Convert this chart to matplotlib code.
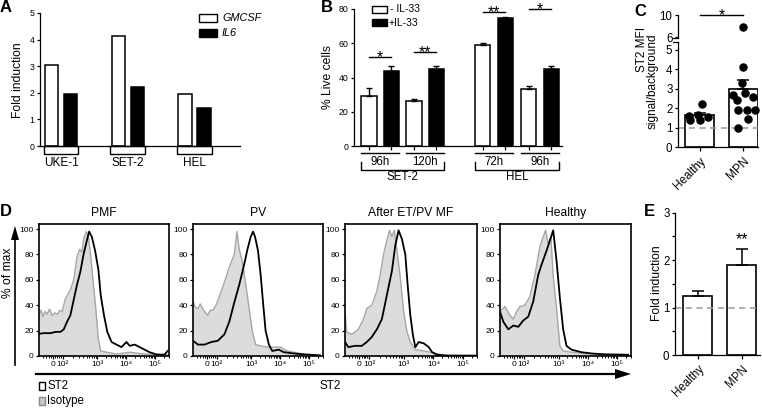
import numpy as np
import matplotlib
matplotlib.use("Agg")
from matplotlib import pyplot as plt
from matplotlib.patches import Rectangle
from matplotlib.transforms import blended_transform_factory

plt.rcParams["font.family"] = ["Liberation Sans", "DejaVu Sans"]
plt.rcParams["axes.linewidth"] = 0.9
plt.rcParams["xtick.major.width"] = 0.9
plt.rcParams["ytick.major.width"] = 0.9

W, H = 762, 409

# ---- data ----
# A: fold induction per cell line
lines_a = ["UKE-1", "SET-2", "HEL"]
gmcsf_a = [3.05, 4.15, 1.95]
il6_a = [1.95, 2.2, 1.42]

# B: % live cells
times_b = ["96h", "120h", "72h", "96h"]
cells_b = ["SET-2", "HEL"]
ctrl_b = [29, 26, 59, 33]
ctrl_err_b = [5, 1.5, 1.2, 2]
il33_b = [44, 45, 75, 45]
il33_err_b = [2.5, 2, 0.5, 1.5]
stars_b = ["*", "**", "**", "*"]
star_lvl_b = [52, 55, 78, 80]

# C: ST2 MFI signal/background
groups_c = ["Healthy", "MPN"]
healthy_c = [2.2, 1.6, 1.65, 1.55, 1.38, 1.38]
healthy_jit = [0.05, -0.25, -0.03, 0.19, -0.22, 0.01]
mpn_c = [7.85, 4.14, 3.28, 2.67, 2.76, 2.59, 2.41, 1.9, 1.9, 1.93, 1.43, 0.98]
mpn_jit = [0.0, 0.0, -0.03, -0.23, 0.03, 0.22, -0.15, 0.07, 0.26, -0.12, 0.11, -0.12]
mean_c = [1.65, 2.97]
sem_c = [0.1, 0.5]

# D: histograms (channel, % of max)
titles_d = ["PMF", "PV", "After ET/PV MF", "Healthy"]
pmf_iso = [(0, 32), (6, 36), (12, 31), (18, 35), (25, 33), (32, 37), (40, 32), (48, 34), (56, 33),
           (63, 36), (70, 35), (80, 45), (95, 52), (105, 60), (115, 78), (123, 84), (130, 82),
           (135, 92), (143, 98), (150, 94), (157, 78), (165, 56), (173, 35), (180, 13), (187, 4),
           (205, 3), (235, 1.5), (275, 3), (305, 2), (355, 1), (393, 1)]
pmf_st2 = [(0, 17.5), (15, 18), (35, 18), (50, 19), (65, 19), (75, 21), (85, 27), (95, 32),
           (105, 44), (115, 56), (125, 66), (135, 80), (145, 91), (152, 98), (160, 94), (170, 83),
           (180, 68), (187, 48), (197, 32), (207, 19), (220, 11), (235, 9), (250, 7), (265, 11),
           (275, 8), (290, 9), (305, 7), (320, 5), (335, 3), (355, 1.3), (380, 1), (390, 4)]
pv_iso = [(0, 43), (8, 38), (15, 37.5), (22, 41), (30, 37), (38, 34), (45, 32), (52, 36), (60, 36),
          (70, 40), (80, 47), (95, 58), (110, 70), (125, 80), (133, 98), (140, 84), (150, 74),
          (160, 56), (170, 37.5), (180, 19), (190, 9), (205, 8), (225, 7), (245, 7), (265, 7),
          (285, 4), (305, 3), (335, 1.5), (385, 0.5)]
pv_st2 = [(0, 12), (15, 9), (35, 9), (55, 11), (75, 12), (95, 17), (110, 27), (125, 42), (140, 56),
          (155, 72), (165, 84), (175, 94), (182, 98), (188, 94), (197, 83), (205, 64), (213, 40),
          (220, 20), (230, 9), (240, 4), (260, 5), (275, 3), (305, 2), (335, 1.3), (385, 0.5)]
et_iso = [(0, 35), (5, 19), (20, 17), (40, 21), (55, 29), (65, 37.5), (80, 40), (95, 51),
          (105, 64), (115, 80), (125, 91), (133, 99), (140, 94), (147, 99), (155, 83), (165, 62),
          (175, 35), (185, 19), (195, 11), (210, 5), (235, 4), (255, 3), (295, 0.5), (393, 0.3)]
et_st2 = [(0, 11), (10, 7), (30, 8), (50, 8), (65, 11), (80, 15), (95, 21), (110, 29), (125, 48),
          (140, 67), (150, 87), (160, 99), (170, 92), (180, 80), (187, 56), (195, 32), (203, 16),
          (210, 7), (220, 11), (235, 10), (250, 7), (260, 3), (275, 1), (305, 0.3), (393, 0.3)]
hea_iso = [(0, 35), (15, 39), (30, 32), (40, 29), (50, 35), (60, 39), (75, 40), (90, 47),
           (105, 64), (120, 86), (130, 94), (137, 99), (145, 88), (153, 94), (160, 63),
           (170, 37.5), (180, 8), (190, 4), (215, 3), (255, 2), (295, 1.5), (385, 0.5)]
hea_st2 = [(0, 35), (10, 27), (25, 21), (40, 24), (55, 23), (70, 28), (85, 31), (100, 43),
           (115, 64), (125, 72), (140, 83), (150, 91), (160, 99), (170, 75), (180, 46), (190, 21),
           (200, 8), (215, 5), (245, 3), (275, 2), (315, 1.3), (385, 1)]
hist_ticks = [43, 72, 176, 264, 352]
hist_ticklabels = ["0", "10²", "10³", "10⁴", "10⁵"]

# E: fold induction
mean_e = [1.25, 1.9]
sem_e = [0.1, 0.33]


def box(l, t, r, b):
    return [l / W, 1 - b / H, (r - l) / W, (b - t) / H]


def clean(ax, size):
    ax.spines[["top", "right"]].set_visible(False)
    ax.tick_params(labelsize=size, length=2.5, pad=1.5)


fig = plt.figure(figsize=(W / 100, H / 100), dpi=100)

# ---- A ----
ax = fig.add_axes(box(40, 13, 240, 146))
xa = np.arange(len(lines_a))
ax.bar(xa - 0.143, gmcsf_a, 0.2, color="white", edgecolor="k", lw=1.1)
ax.bar(xa + 0.143, il6_a, 0.2, color="k", edgecolor="k", lw=1.1)
ax.set_xlim(-0.315, 2.68)
ax.set_ylim(0, 5)
ax.set_yticks(range(6))
ax.set_xticks([])
clean(ax, 6.3)
tr = blended_transform_factory(ax.transData, ax.transAxes)
for i, name in enumerate(lines_a):
    ax.add_patch(Rectangle((i - 0.26, -0.06), 0.52, 0.06, transform=tr, fc="white",
                           ec="k", lw=1, clip_on=False))
    ax.text(i, -0.13, name, transform=tr, ha="center", va="center", fontsize=8.5)

# ---- B ----
ax = fig.add_axes(box(354, 9, 562, 146))
pos = np.array([0, 1, 2.53, 3.55])
kw_err = dict(fmt="none", ecolor="k", elinewidth=1, capsize=2.5, capthick=1)
ax.bar(pos - 0.25, ctrl_b, 0.34, color="white", edgecolor="k", lw=1.1)
ax.bar(pos + 0.25, il33_b, 0.34, color="k", edgecolor="k", lw=1.1)
ax.errorbar(pos - 0.25, ctrl_b, yerr=[np.zeros(4), ctrl_err_b], **kw_err)
ax.errorbar(pos + 0.25, il33_b, yerr=[np.zeros(4), il33_err_b], **kw_err)
ax.set_xlim(-0.58, 4.04)
ax.set_ylim(0, 80)
ax.set_yticks(range(0, 81, 20))
ax.set_xticks(np.concatenate([pos - 0.25, pos + 0.25]))
ax.set_xticklabels([])
clean(ax, 6.3)
ax.tick_params(axis="x", length=3)
tr = blended_transform_factory(ax.transData, ax.transAxes)
for p, t, s, lvl in zip(pos, times_b, stars_b, star_lvl_b):
    ax.plot([p - 0.42, p + 0.42], [-0.049, -0.049], transform=tr, c="k", lw=1, clip_on=False)
    ax.text(p, -0.115, t, transform=tr, ha="center", va="center", fontsize=8.3)
    ax.plot([p - 0.25, p + 0.25], [lvl, lvl], c="k", lw=1, clip_on=False)
    ax.annotate(s, (p, lvl), xytext=(0, -3.5), textcoords="offset points",
                ha="center", va="baseline", fontsize=11.5, annotation_clip=False)
for k, cell in enumerate(cells_b):
    a, b = pos[2 * k] - 0.42, pos[2 * k + 1] + 0.42
    ax.plot([a, a, b, b], [-0.117, -0.175, -0.175, -0.117], transform=tr, c="k", lw=1,
            clip_on=False)
    ax.text((a + b) / 2, -0.228, cell, transform=tr, ha="center", va="center", fontsize=8.3)

# ---- C (broken axis) ----
ax_lo = fig.add_axes(box(678, 42.2, 758, 147))
ax_hi = fig.add_axes(box(678, 15, 758, 38.4))
xc = np.arange(2)
ax_lo.bar(xc, mean_c, 0.66, color="white", edgecolor="k", lw=1.2, zorder=1)
ax_lo.errorbar(xc, mean_c, yerr=[np.zeros(2), sem_c], fmt="none", ecolor="k",
               elinewidth=1.1, capsize=4, capthick=1.1, zorder=2)
ax_lo.axhline(1, color="#999999", ls=(0, (4, 3)), lw=1.1, zorder=2)
for i, (vals, jit) in enumerate([(healthy_c, healthy_jit), (mpn_c, mpn_jit)]):
    vals, jit = np.array(vals), np.array(jit)
    lo = vals < 5.4
    ax_lo.scatter(i + jit[lo], vals[lo], s=26, c="k", zorder=3, clip_on=False)
    ax_hi.scatter(i + jit[~lo], vals[~lo], s=26, c="k", zorder=3, clip_on=False)
for a in (ax_lo, ax_hi):
    a.set_xlim(-0.49, 1.33)
    clean(a, 8.3)
ax_lo.set_ylim(0, 5.4)
ax_lo.set_yticks(range(6))
ax_lo.set_xticks(xc)
ax_lo.set_xticklabels(groups_c, rotation=45, ha="right", rotation_mode="anchor", fontsize=8.5)
ax_lo.tick_params(axis="x", length=3, pad=3)
ax_hi.set_ylim(5.75, 10)
ax_hi.set_yticks([6, 10])
ax_hi.set_xticks([])
ax_hi.spines["bottom"].set_visible(False)
ax_hi.patch.set_visible(False)
ax_hi.plot([0, 1], [10, 10], c="k", lw=1, clip_on=False)
ax_hi.annotate("*", (0.5, 10), xytext=(0, -3.5), textcoords="offset points",
               ha="center", va="baseline", fontsize=11.5, annotation_clip=False)
# break marks
for a, y in ((ax_hi, 0), (ax_lo, 1)):
    a.plot([-0.06, 0.0], [y, y], transform=a.transAxes, c="k", lw=0.9, clip_on=False)

# ---- D ----
boxes_d = [(39, 224, 169, 356), (193, 224, 323, 356), (345, 224, 477, 356), (500, 224, 631, 356)]
curves_d = [(pmf_iso, pmf_st2), (pv_iso, pv_st2), (et_iso, et_st2), (hea_iso, hea_st2)]
minor = ([12, 22, 30, 36, 50, 56, 61, 66]
         + [72 + 104 * np.log10(m) for m in range(2, 10)]
         + [176 + 88 * np.log10(m) for m in range(2, 10)]
         + [264 + 88 * np.log10(m) for m in range(2, 10)]
         + [352 + 88 * np.log10(m) for m in range(2, 4)])
for bx, (iso, st2) in zip(boxes_d, curves_d):
    ax = fig.add_axes(box(*bx))
    xi, yi = np.array(iso).T
    xs, ys = np.array(st2).T
    ax.fill_between(xi, 0, yi, color="#dcdcdc", lw=0)
    ax.plot(xi, yi, c="#a6a6a6", lw=1.0)
    ax.plot(xs, ys, c="k", lw=1.3)
    ax.set_xlim(0, 393)
    ax.set_ylim(0, 104)
    ax.set_yticks(range(0, 101, 20))
    ax.set_xticks(hist_ticks)
    ax.set_xticklabels(hist_ticklabels)
    ax.set_xticks(minor, minor=True)
    ax.tick_params(labelsize=6, length=2.5, pad=1.2)
    ax.tick_params(axis="x", which="minor", length=1.6, width=0.7)
    for s in ax.spines.values():
        s.set_linewidth(1.2)

# ---- E ----
ax = fig.add_axes(box(675, 212.7, 760, 355))
xe = np.arange(2)
ax.bar(xe, mean_e, 0.66, color="white", edgecolor="k", lw=1.2)
ax.errorbar(xe, mean_e, yerr=[np.zeros(2), sem_e], fmt="none", ecolor="k",
            elinewidth=1.1, capsize=4, capthick=1.1)
ax.axhline(1, color="#999999", ls=(0, (4, 3)), lw=1.1)
ax.annotate("**", (1, 2.43), xytext=(0, -3.5), textcoords="offset points",
            ha="center", va="baseline", fontsize=11.5, annotation_clip=False)
ax.set_xlim(-0.52, 1.41)
ax.set_ylim(0, 3)
ax.set_yticks(range(4))
ax.set_yticks([0.5, 1.5, 2.5], minor=True)
ax.set_xticks(xe)
ax.set_xticklabels(groups_c, rotation=45, ha="right", rotation_mode="anchor", fontsize=8.5)
clean(ax, 8.3)
ax.tick_params(axis="x", length=3, pad=3)
ax.tick_params(axis="y", which="minor", length=2.5, width=0.9)

# ---- overlay: labels, legends, arrows ----
ov = fig.add_axes([0, 0, 1, 1], zorder=10)
ov.set_axis_off()
ov.set_xlim(0, W)
ov.set_ylim(H, 0)

for x, y, s in [(6, 8, "A"), (327, 7, "B"), (640, 12, "C"), (6, 212, "D"), (649, 212, "E")]:
    ov.text(x, y, s, fontsize=12, fontweight="bold", ha="center", va="center")

ov.text(18, 80, "Fold induction", rotation=90, ha="center", va="center", fontsize=8.7)
ov.text(328, 77, "% Live cells", rotation=90, ha="center", va="center", fontsize=8.7)
ov.text(642, 50, "ST2 MFI", rotation=90, ha="center", va="center", fontsize=8.5)
ov.text(653, 81, "signal/background", rotation=90, ha="center", va="center", fontsize=8.5)
ov.text(657, 283, "Fold induction", rotation=90, ha="center", va="center", fontsize=8.7)
ov.text(8, 273, "% of max", rotation=90, ha="center", va="center", fontsize=8.7)
ov.text(330, 386, "ST2", ha="center", va="center", fontsize=8.5)
for bx, t in zip(boxes_d, titles_d):
    ov.text((bx[0] + bx[2]) / 2, 213, t, ha="center", va="center", fontsize=8.7)

# legend A
ov.add_patch(Rectangle((199, 14), 18, 8, fc="white", ec="k", lw=1))
ov.add_patch(Rectangle((199, 29), 18, 8, fc="k", ec="k", lw=1))
ov.text(222, 18, "GMCSF", style="italic", va="center", fontsize=7.8)
ov.text(222, 33, "IL6", style="italic", va="center", fontsize=7.8)

# legend B
ov.add_patch(Rectangle((372, 6), 15, 7, fc="white", ec="k", lw=1))
ov.add_patch(Rectangle((372, 19), 15, 7, fc="k", ec="k", lw=1))
ov.text(390, 9.5, "- IL-33", va="center", fontsize=7.5)
ov.text(389, 22.5, "+IL-33", va="center", fontsize=7.5)

# legend D
ov.add_patch(Rectangle((39, 382), 6, 7.5, fc="white", ec="k", lw=1))
ov.add_patch(Rectangle((39, 397), 6, 7.5, fc="#c8c8c8", ec="#888888", lw=1))
ov.text(47, 386, "ST2", va="center", fontsize=8.3)
ov.text(47, 401, "Isotype", va="center", fontsize=8.3)

# arrows D
ov.plot([36, 618], [374, 374], c="k", lw=1.6)
ov.fill([615, 631, 615], [369, 374, 379], c="k", lw=0)
ov.plot([15, 15], [365, 238], c="k", lw=1.2)
ov.fill([11, 15, 19], [240, 226, 240], c="k", lw=0)

fig.savefig("out.png", dpi=100)
